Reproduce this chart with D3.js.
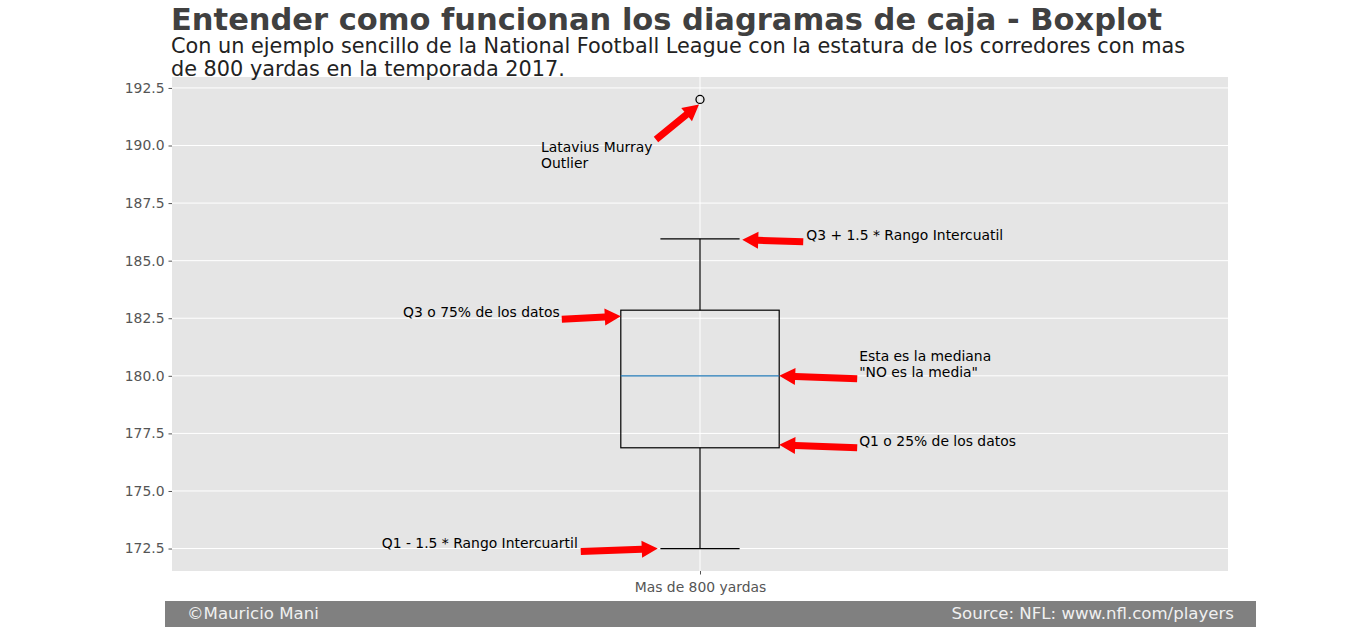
<!DOCTYPE html>
<html><head><meta charset="utf-8">
<script src="https://cdn.jsdelivr.net/npm/d3@7"></script>
<style>
body{margin:0;background:#fff;}
svg{display:block;font-family:"DejaVu Sans",sans-serif;}
</style></head>
<body><svg id="c" width="1366" height="635"></svg>
<script>
// ---- data ----
const categories = ["Mas de 800 yardas"];
const whiskerLow = [172.5];
const q1 = [176.875];
const median = [180.0];
const q3 = [182.85];
const whiskerHigh = [185.95];
const outliers = [[192.0]];
const yTicks = [172.5, 175.0, 177.5, 180.0, 182.5, 185.0, 187.5, 190.0, 192.5];
const title = "Entender como funcionan los diagramas de caja - Boxplot";
const subtitle = ["Con un ejemplo sencillo de la National Football League con la estatura de los corredores con mas", "de 800 yardas en la temporada 2017."];
const credit = "©Mauricio Mani";
const source = "Source: NFL: www.nfl.com/players";
const annotationTexts = [
  ["Latavius Murray", "Outlier"],
  ["Q3 + 1.5 * Rango Intercuatil"],
  ["Q3 o 75% de los datos"],
  ["Esta es la mediana", "\"NO es la media\""],
  ["Q1 o 25% de los datos"],
  ["Q1 - 1.5 * Rango Intercuartil"]
];
const annotationValues = [outliers[0][0], whiskerHigh[0], q3[0], median[0], q1[0], whiskerLow[0]];

// ---- layout ----
const svg = d3.select("#c");
const P = {l:172, r:1228, t:77, b:571};
const y = d3.scaleLinear().domain([171.525, 192.975]).range([P.b, P.t]);
const x = d3.scaleLinear().domain([0.5, 1.5]).range([P.l, P.r]);
const pos = 1, boxW = 0.15, capW = 0.075;

svg.append("rect").attr("x",P.l).attr("y",P.t).attr("width",P.r-P.l).attr("height",P.b-P.t).attr("fill","#E5E5E5");

// grid
svg.append("g").selectAll("line").data(yTicks).join("line")
  .attr("x1",P.l).attr("x2",P.r).attr("y1",d=>y(d)).attr("y2",d=>y(d))
  .attr("stroke","#fff").attr("stroke-width",1);
svg.append("line").attr("x1",x(pos)).attr("x2",x(pos)).attr("y1",P.t).attr("y2",P.b).attr("stroke","#fff");

// axes
const yAxis = svg.append("g").attr("transform",`translate(${P.l},0)`)
  .call(d3.axisLeft(y).tickValues(yTicks).tickFormat(d3.format(".1f")).tickSize(3.5).tickPadding(4));
yAxis.select(".domain").remove();
yAxis.selectAll("line").attr("stroke","#555");
yAxis.selectAll("text").attr("fill","#555").style("font-size","13.9px").style("font-family","DejaVu Sans");

const xAxis = svg.append("g").attr("transform",`translate(0,${P.b})`)
  .call(d3.axisBottom(x).tickValues([pos]).tickFormat((d,i)=>categories[i]).tickSize(3.5).tickPadding(8));
xAxis.select(".domain").remove();
xAxis.selectAll("line").attr("stroke","#555");
xAxis.selectAll("text").attr("fill","#555").style("font-size","13.9px").style("font-family","DejaVu Sans");

// boxplot
const g = svg.append("g").attr("fill","none").attr("stroke","#000").attr("stroke-width",1.2);
categories.forEach((c,i)=>{
  const cx = x(pos+i);
  const hw = x(pos+boxW/2)-x(pos), cw = x(pos+capW/2)-x(pos);
  g.append("line").attr("x1",cx).attr("x2",cx).attr("y1",y(q3[i])).attr("y2",y(whiskerHigh[i]));
  g.append("line").attr("x1",cx).attr("x2",cx).attr("y1",y(q1[i])).attr("y2",y(whiskerLow[i]));
  g.append("line").attr("x1",cx-cw).attr("x2",cx+cw).attr("y1",y(whiskerHigh[i])).attr("y2",y(whiskerHigh[i]));
  g.append("line").attr("x1",cx-cw).attr("x2",cx+cw).attr("y1",y(whiskerLow[i])).attr("y2",y(whiskerLow[i]));
  g.append("rect").attr("x",cx-hw).attr("y",y(q3[i])).attr("width",2*hw).attr("height",y(q1[i])-y(q3[i]));
  g.append("line").attr("x1",cx-hw).attr("x2",cx+hw).attr("y1",y(median[i])).attr("y2",y(median[i])).attr("stroke","#1f77b4");
  outliers[i].forEach(o=>{
    g.append("circle").attr("cx",cx).attr("cy",y(o)).attr("r",4).attr("stroke-width",1.3);
  });
});

// annotations: target in data space (x offset in data units), tail/text offsets in px from tip
const annLayout = [
  {ax:pos,       dyTip:5,  tail:[-43,35],  text:[-158,48], anchor:"start"},
  {ax:pos+0.04, dyTip:1,  tail:[61,2],    text:[64,0],    anchor:"start"},
  {ax:pos-0.075, dyTip:6, tail:[-59,3],   text:[-61,1],   anchor:"end"},
  {ax:pos+0.075, dyTip:0, tail:[78,3],    text:[80,-15],  anchor:"start"},
  {ax:pos+0.075, dyTip:-3, tail:[78,3],   text:[80,1],    anchor:"start"},
  {ax:pos-0.04, dyTip:0,  tail:[-77,3],   text:[-80,-1],  anchor:"end"}
];
function arrowPath(tx,ty,sx,sy){
  const dx=tx-sx, dy=ty-sy, L=Math.hypot(dx,dy), ux=dx/L, uy=dy/L, nx=-uy, ny=ux;
  const sw=3.5, hw=8.5, hl=16;
  const bx=tx-ux*hl, by=ty-uy*hl;
  const pts=[[sx+nx*sw,sy+ny*sw],[bx+nx*sw,by+ny*sw],[bx+nx*hw,by+ny*hw],[tx,ty],[bx-nx*hw,by-ny*hw],[bx-nx*sw,by-ny*sw],[sx-nx*sw,sy-ny*sw]];
  return "M"+pts.map(p=>p.join(",")).join("L")+"Z";
}
const ag = svg.append("g");
annotationTexts.forEach((lines,i)=>{
  const L = annLayout[i];
  const tx = x(L.ax) - (i===0?1:0);
  const ty = y(annotationValues[i]) + L.dyTip;
  ag.append("path").attr("d",arrowPath(tx,ty,tx+L.tail[0],ty+L.tail[1])).attr("fill","#ff0000");
  const t = ag.append("text").attr("x",tx+L.text[0]).attr("y",ty+L.text[1])
    .attr("text-anchor",L.anchor).attr("fill","#000").style("font-size","13.9px");
  lines.forEach((s,j)=>t.append("tspan").attr("x",tx+L.text[0]).attr("dy",j?16:0).text(s));
});

// titles
svg.append("text").attr("x",171).attr("y",30).attr("fill","#404040")
  .style("font-size","30.5px").style("font-weight","bold").text(title);
subtitle.forEach((s,i)=>svg.append("text").attr("x",171).attr("y",53+23*i).attr("fill","#222")
  .style("font-size","20.8px").text(s));

// footer
svg.append("rect").attr("x",165).attr("y",601).attr("width",1091).attr("height",26).attr("fill","#808080");
svg.append("text").attr("x",187).attr("y",619).attr("fill","#f0f0f0").style("font-size","16.6px").text(credit);
svg.append("text").attr("x",1234).attr("y",619).attr("text-anchor","end").attr("fill","#f0f0f0").style("font-size","16.6px").text(source);
</script></body></html>
